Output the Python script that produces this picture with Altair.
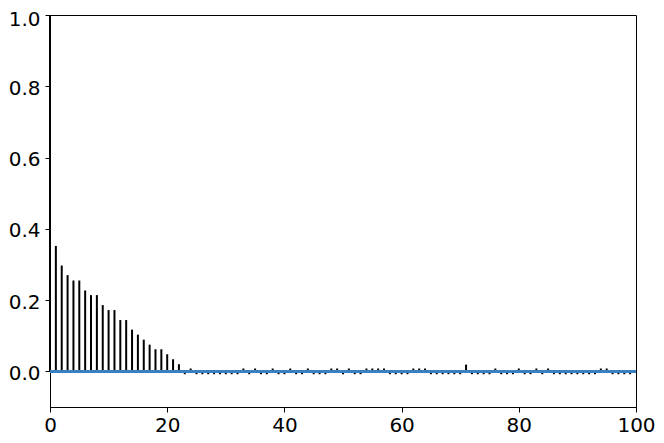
import altair as alt
import pandas as pd

lags = list(range(0, 100))
acf_values = [
    1.000, 0.352, 0.297, 0.270, 0.255, 0.255, 0.227, 0.214, 0.214, 0.186,
    0.172, 0.172, 0.144, 0.144, 0.117, 0.103, 0.089, 0.075, 0.062, 0.062,
    0.048, 0.034, 0.020, -0.008, 0.008, -0.008, -0.008, -0.008, -0.008, -0.008,
    -0.008, -0.008, -0.008, 0.008, -0.008, 0.008, -0.008, -0.008, 0.008, -0.008,
    -0.008, 0.008, -0.008, -0.008, 0.008, -0.008, -0.008, -0.008, 0.008, 0.008,
    -0.008, 0.008, -0.008, -0.008, 0.008, 0.008, 0.008, 0.008, -0.008, -0.008,
    -0.008, -0.008, 0.008, 0.008, 0.008, -0.008, -0.008, -0.008, -0.008, -0.008,
    -0.008, 0.019, -0.008, -0.008, -0.008, -0.008, 0.008, -0.008, -0.008, -0.008,
    0.008, -0.008, -0.008, 0.008, -0.008, 0.008, -0.008, -0.008, -0.008, -0.008,
    -0.008, -0.008, -0.008, -0.008, 0.008, 0.008, -0.008, -0.008, -0.008, -0.008,
]
x_ticks = [0, 20, 40, 60, 80, 100]
y_ticks = [0.0, 0.2, 0.4, 0.6, 0.8, 1.0]

df = pd.DataFrame({"lag": lags, "acf": acf_values, "zero": [0.0] * len(lags)})

x_scale = alt.Scale(domain=[0, 100], nice=False, zero=False)
y_scale = alt.Scale(domain=[-0.1, 1.0], nice=False)

x_axis = alt.Axis(values=x_ticks, title=None, grid=False, format="d",
                  tickSize=5, labelPadding=3, labelFlush=False, labelOverlap=False)
y_axis = alt.Axis(values=y_ticks, title=None, grid=False, format=".1f",
                  tickSize=5, labelPadding=5,
                  labelOffset=alt.ExprRef("datum.value > 0.99 ? 4 : 2"),
                  labelFlush=False, labelOverlap=False)

bars = alt.Chart(df).mark_rule(color="black", strokeWidth=2).encode(
    x=alt.X("lag:Q", scale=x_scale, axis=x_axis),
    y=alt.Y("acf:Q", scale=y_scale, axis=y_axis),
    y2="zero:Q",
)

zero_line = alt.Chart(df).mark_rule(color="#3a81c1", strokeWidth=2).encode(
    x=alt.value(0),
    x2=alt.value(586),
    y=alt.Y("zero:Q", scale=y_scale),
)

chart = alt.layer(bars, zero_line).properties(
    width=586,
    height=392,
    autosize=alt.AutoSizeParams(type="none"),
    padding={"left": 42, "top": 7, "right": 20, "bottom": 28},
).configure_view(
    stroke="black", strokeWidth=1
).configure_axis(
    labelFont="DejaVu Sans",
    labelFontSize=20,
    labelColor="black",
    tickColor="black",
    domainColor="black",
    domainWidth=1,
    tickWidth=1,
)

chart.save("out.html", embed_options={"renderer": "svg", "actions": False})
